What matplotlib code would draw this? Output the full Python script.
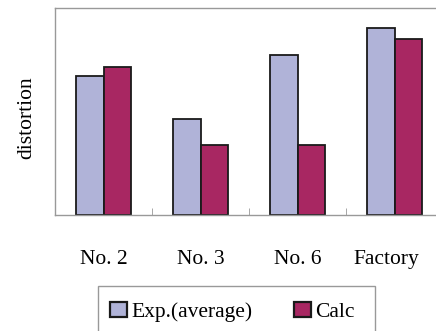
import matplotlib
matplotlib.use("Agg")
import matplotlib.pyplot as plt
import matplotlib.transforms as mtransforms
from matplotlib.patches import Rectangle
import numpy as np

# data (arbitrary units, no y scale shown)
categories = ["No. 2", "No. 3", "No. 6", "Factory"]
exp_avg = [1.39, 0.96, 1.60, 1.87]
calc = [1.48, 0.70, 0.70, 1.76]

plt.rcParams['font.family'] = ['Liberation Serif', 'DejaVu Serif']

fig = plt.figure(figsize=(4.36, 3.31), dpi=100)
ax = fig.add_axes([55 / 436, 1 - 215 / 331, 388 / 436, 207 / 331])

x = np.arange(len(categories))
w = 0.28
ax.bar(x - w / 2, exp_avg, w, color="#b0b3d8", edgecolor="#1a1a1a", linewidth=1.3,
       label="Exp.(average)")
ax.bar(x + w / 2, calc, w, color="#a82762", edgecolor="#1a1a1a", linewidth=1.3,
       label="Calc")

ax.set_xlim(-0.5, 3.5)
ax.set_ylim(0, 2.07)
ax.set_yticks([])

ax.set_xticks(x)
ax.set_xticklabels(categories, fontsize=15.5)
ax.tick_params(axis='x', which='major', length=0, pad=25.5)
ax.set_xticks(x[:-1] + 0.5, minor=True)
ax.tick_params(axis='x', which='minor', direction='in', length=5, color='#999999')

# last label sits a bit left of its group in the original (plot is clipped on the right)
lab = ax.get_xticklabels()[-1]
lab.set_transform(lab.get_transform() +
                  mtransforms.ScaledTranslation(-8 / 100, 0, fig.dpi_scale_trans))

for s in ax.spines.values():
    s.set_color('#999999')
    s.set_linewidth(1.0)
ax.spines['right'].set_visible(False)

ax.set_ylabel("distortion", fontsize=15.5)
ax.yaxis.set_label_coords(-0.049, 0.47)

# legend frame runs off the bottom of the picture
fig.patches.append(Rectangle((98 / 436, -0.05), 277 / 436, (331 - 286) / 331 + 0.05,
                             transform=fig.transFigure, fill=False,
                             edgecolor='#999999', linewidth=1.0))
leg = fig.legend(loc='center left', bbox_to_anchor=(110 / 436, 1 - 312 / 331), ncol=2,
                 frameon=False, fontsize=15.5, handlelength=0.79, handleheight=0.74,
                 handletextpad=0.19, columnspacing=1.95, borderaxespad=0, borderpad=0)
for h in leg.legend_handles:
    h.set_linewidth(1.6)

fig.savefig("out.png", dpi=100)
